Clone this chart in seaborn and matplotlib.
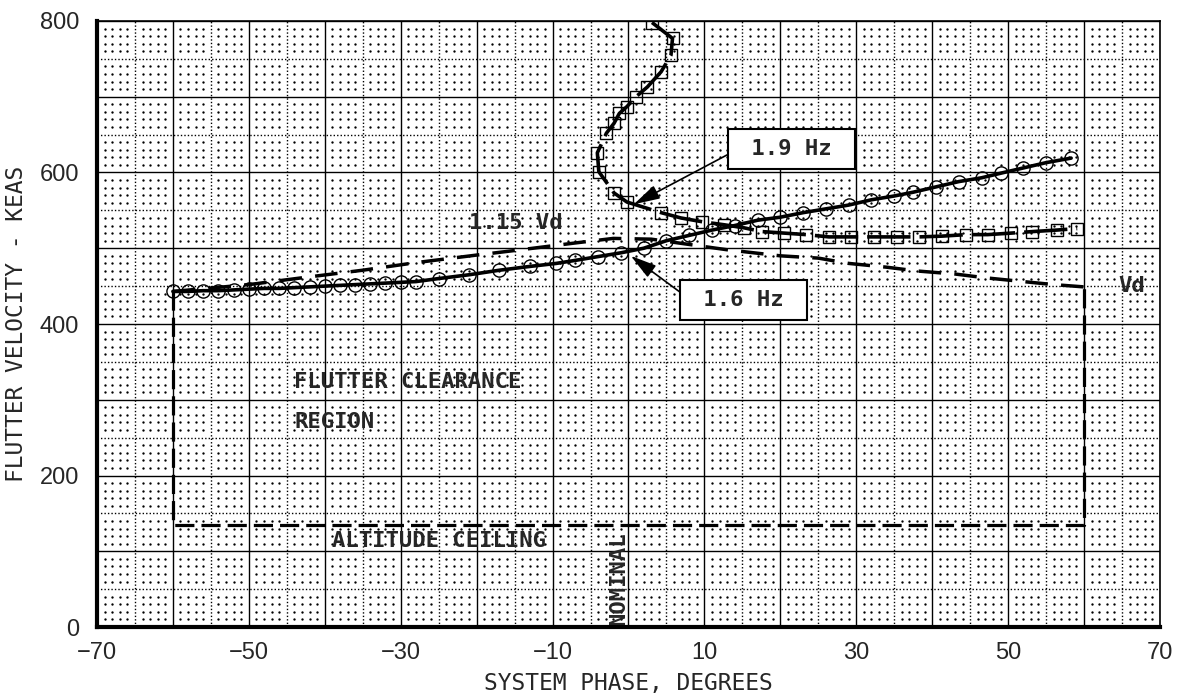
import numpy as np
import matplotlib.pyplot as plt
import seaborn as sns

sns.set_style("white")
plt.rcParams['font.family'] = ['Liberation Sans', 'DejaVu Sans']

# 1.6 Hz branch (circles)
phase_16 = [-60, -58, -56, -54, -52, -50, -48, -46, -44, -42, -40, -38, -36, -34,
            -32, -30, -28, -25, -21, -17, -13, -9.5, -7, -4, -1, 2, 5, 8, 11, 14,
            17, 20, 23, 26, 29, 32, 35, 37.5, 40.5, 43.5, 46.5, 49, 52, 55, 58.3]
vel_16 = [443, 443, 444, 444, 445, 446, 447, 447, 448, 449, 450, 451, 452, 453,
          454, 455, 456, 460, 465, 471, 476, 480, 484, 489, 494, 500, 510, 517, 524, 530,
          537, 541, 547, 552, 557, 564, 569, 574, 581, 588, 593, 599, 606, 613, 619]

# 1.9 Hz branch (squares), in path order from the top
phase_19 = [3.1, 5.8, 5.6, 4.3, 2.5, 1.0, -0.2, -1.2, -1.9, -2.9, -4.1, -3.9, -1.9,
            -0.2, 4.3, 6.9, 9.7, 12.6, 15.2, 17.6, 20.5, 23.4, 26.4, 29.3, 32.4, 35.4,
            38.3, 41.3, 44.5, 47.3, 50.4, 53.2, 56.4, 59.1]
vel_19 = [798, 777, 755, 733, 713, 700, 687, 678, 665, 652, 626, 601, 573,
          561, 547, 540, 535, 531, 527, 522, 520, 518, 515, 515, 515, 515,
          515, 516, 518, 518, 520, 522, 524, 526]

# 1.15 Vd / Vd envelope
env_phase = [-60, -50, -43, -35, -28, -20, -15, -7, -2, 3, 8, 13, 20, 25, 29, 34,
             38, 43, 47, 51, 56, 60]
env_vel = [443, 452, 461, 471, 481, 491, 497, 507, 513, 512, 505, 498, 490, 487,
           480, 475, 470, 466, 461, 457, 452, 449]

# clearance region boundary (sides + altitude ceiling)
reg_phase = [-60, -60, 60, 60]
reg_vel = [443, 135, 135, 449]

mono = dict(family='DejaVu Sans Mono', weight='bold', size=16)

fig = plt.figure(figsize=(11.81, 6.95), dpi=100)
ax = fig.add_axes([0.0821, 0.0978, 0.9001, 0.872])
ax.set_xlim(-70, 70)
ax.set_ylim(0, 800)

# graph-paper grid
for gx in range(-70, 71, 10):
    ax.axvline(gx, color='k', lw=1.0, zorder=1)
for gy in range(0, 801, 100):
    ax.axhline(gy, color='k', lw=1.0, zorder=1)
for gx in range(-65, 70, 10):
    ax.axvline(gx, color='k', lw=1.0, ls=(0, (1, 1.5)), zorder=1)
for gy in range(50, 800, 100):
    ax.axhline(gy, color='k', lw=1.0, ls=(0, (1, 1.5)), zorder=1)
dx = [v for v in range(-69, 70) if v % 5]
dy = [v for v in range(10, 800, 10) if v % 50]
DX, DY = np.meshgrid(dx, dy)
ax.plot(DX.ravel(), DY.ravel(), 'o', ms=1.7, color='k', mew=0, zorder=1)

# curves
sns.lineplot(x=reg_phase, y=reg_vel, sort=False, estimator=None, color='k',
             lw=2.3, ax=ax, zorder=3)
ax.lines[-1].set_dashes([6, 2.2])
sns.lineplot(x=env_phase, y=env_vel, sort=False, estimator=None, color='k',
             lw=2.5, ax=ax, zorder=3)
ax.lines[-1].set_dashes([6.5, 3.8])
sns.lineplot(x=phase_19, y=vel_19, sort=False, estimator=None, color='k',
             lw=2.6, marker='s', ms=8.5, mfc='none', mec='k', mew=1.0,
             ax=ax, zorder=4)
ax.lines[-1].set_dashes([12, 2.5])
sns.lineplot(x=phase_16, y=vel_16, sort=False, estimator=None, color='k',
             lw=2.6, marker='o', ms=9.5, mfc='none', mec='k', mew=1.0,
             ax=ax, zorder=5)

# labels on the plot
ax.text(-21, 533, '1.15 Vd', va='center', ha='left', fontdict=mono, zorder=6)
ax.text(64.5, 450, 'Vd', va='center', ha='left', fontdict=mono, zorder=6)
ax.text(-44, 323, 'FLUTTER CLEARANCE', va='center', ha='left', fontdict=mono, zorder=6)
ax.text(-44, 271, 'REGION', va='center', ha='left', fontdict=mono, zorder=6)
ax.text(-39, 113, 'ALTITUDE CEILING', va='center', ha='left', fontdict=mono, zorder=6)
ax.text(0, 3, 'NOMINAL', va='bottom', ha='right', rotation=90, fontdict=mono, zorder=6)

arrow = dict(arrowstyle='-|>,head_length=0.8,head_width=0.22', color='k', lw=1.2,
             mutation_scale=20, relpos=(0, 0.5), shrinkA=0, shrinkB=0)
box = dict(boxstyle='square,pad=0.45', fc='white', ec='k', lw=1.5)
ax.annotate(' 1.9 Hz ', xy=(0.7, 558), xytext=(21.5, 631), ha='center', va='center',
            **mono, bbox=box, arrowprops=arrow, zorder=7)
ax.annotate(' 1.6 Hz ', xy=(0.3, 490), xytext=(15.2, 432), ha='center', va='center',
            **mono, bbox=box, arrowprops=arrow, zorder=7)

# axes
ax.set_xticks(range(-70, 71, 20))
ax.set_yticks(range(0, 801, 200))
ax.tick_params(axis='x', direction='out', length=5, width=1.2, labelsize=17, pad=6)
ax.tick_params(axis='y', direction='out', length=7, width=1.2, labelsize=17, pad=6)
for s in ['left', 'bottom']:
    ax.spines[s].set_linewidth(3)
for s in ['top', 'right']:
    ax.spines[s].set_linewidth(1.2)
for s in ax.spines.values():
    s.set_color('k')
    s.set_zorder(8)

ax.set_xlabel('SYSTEM PHASE, DEGREES', family='DejaVu Sans Mono', size=16.5)
ax.set_ylabel('FLUTTER VELOCITY - KEAS', family='DejaVu Sans Mono', size=16.5)
ax.xaxis.set_label_coords(0.5, -0.074)
ax.yaxis.set_label_coords(-0.065, 0.5)

fig.savefig('out.png', dpi=100)
